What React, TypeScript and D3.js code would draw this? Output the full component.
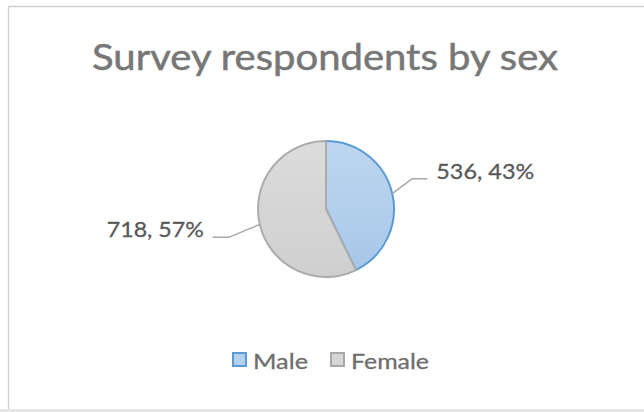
import React from "react";
import * as d3 from "d3";

const categories = ["Male", "Female"];
const values = [536, 718];
const percentLabels = ["43%", "57%"];
const title = "Survey respondents by sex";

const W = 644;
const H = 412;

export default function App() {
  const cx = 326;
  const cy = 209;
  const r = 68;

  const pie = d3
    .pie<number>()
    .sort(null)
    .startAngle(0)
    .endAngle(2 * Math.PI);
  const arcs = pie(values);
  const arcGen = d3.arc<d3.PieArcDatum<number>>().innerRadius(0).outerRadius(r);
  const edgeArc = d3.arc<d3.PieArcDatum<number>>().innerRadius(r).outerRadius(r);

  const fills = ["url(#gMale)", "url(#gFemale)"];
  const strokes = ["#5b9bd5", "#ababab"];
  const swatchFill = ["#b4d0ec", "#d6d6d6"];
  const swatchStroke = ["#5b9bd5", "#a8a8a8"];

  // leader line layout: elbow offset from edge point, horizontal run, label gap
  const leaderLayout = [
    { dx: 20, dy: -15, run: 15, gap: 9, anchor: "start", tl: 98 },
    { dx: -31, dy: 13, run: -16, gap: -9, anchor: "end", tl: 97 },
  ];

  const legendX = [232, 330];
  const legendTextLen = [55, 78];

  return (
    <svg
      width={W}
      height={H}
      style={{ position: "absolute", left: 0, top: 0, background: "#fff" }}
      fontFamily="Lato, 'Open Sans', sans-serif"
    >
      <defs>
        <linearGradient id="gMale" x1="0" y1="0" x2="0" y2="1">
          <stop offset="0" stopColor="#bed7ef" />
          <stop offset="1" stopColor="#a7c7e9" />
        </linearGradient>
        <linearGradient id="gFemale" x1="0" y1="0" x2="0" y2="1">
          <stop offset="0" stopColor="#dcdcdc" />
          <stop offset="1" stopColor="#cfcfcf" />
        </linearGradient>
      </defs>
      <rect x={0} y={0} width={W} height={H} fill="#fff" />
      {/* frame */}
      <line x1={8.5} y1={6.5} x2={W} y2={6.5} stroke="#cfcfcf" strokeWidth={1.3} />
      <line x1={8.5} y1={6.5} x2={8.5} y2={409} stroke="#cfcfcf" strokeWidth={1.3} />
      <rect x={0} y={409} width={W} height={3} fill="#e6e6e6" />

      <text
        x={325}
        y={70}
        textAnchor="middle"
        fontSize={36}
        fill="#777777"
        stroke="#777777"
        strokeWidth={0.5}
        textLength={466}
        lengthAdjust="spacingAndGlyphs"
      >
        {title}
      </text>

      <g transform={`translate(${cx},${cy})`}>
        {arcs.map((a, i) => (
          <path
            key={categories[i]}
            d={arcGen(a) || ""}
            fill={fills[i]}
            stroke={strokes[i]}
            strokeWidth={2}
            strokeLinejoin="round"
          />
        ))}
        {arcs.map((a, i) => {
          const [sx, sy] = edgeArc.centroid(a);
          const L = leaderLayout[i];
          const ex = sx + L.dx;
          const ey = sy + L.dy;
          const hx = ex + L.run;
          return (
            <g key={"lab" + i}>
              <polyline
                points={`${sx},${sy} ${ex},${ey} ${hx},${ey}`}
                fill="none"
                stroke="#a6a6a6"
                strokeWidth={1.5}
              />
              <text
                x={hx + L.gap}
                y={ey}
                textAnchor={L.anchor as any}
                fontSize={22}
                fill="#595959"
                stroke="#595959"
                strokeWidth={0.3}
                textLength={L.tl}
                lengthAdjust="spacingAndGlyphs"
              >
                {`${values[i]}, ${percentLabels[i]}`}
              </text>
            </g>
          );
        })}
      </g>

      {categories.map((c, i) => (
        <g key={"leg" + c}>
          <rect
            x={legendX[i] + 1}
            y={353}
            width={13}
            height={13}
            fill={swatchFill[i]}
            stroke={swatchStroke[i]}
            strokeWidth={2}
          />
          <text
            x={legendX[i] + 21}
            y={369}
            fontSize={22}
            fill="#6e6e6e"
            stroke="#6e6e6e"
            strokeWidth={0.3}
            textLength={legendTextLen[i]}
            lengthAdjust="spacingAndGlyphs"
          >
            {c}
          </text>
        </g>
      ))}
    </svg>
  );
}
